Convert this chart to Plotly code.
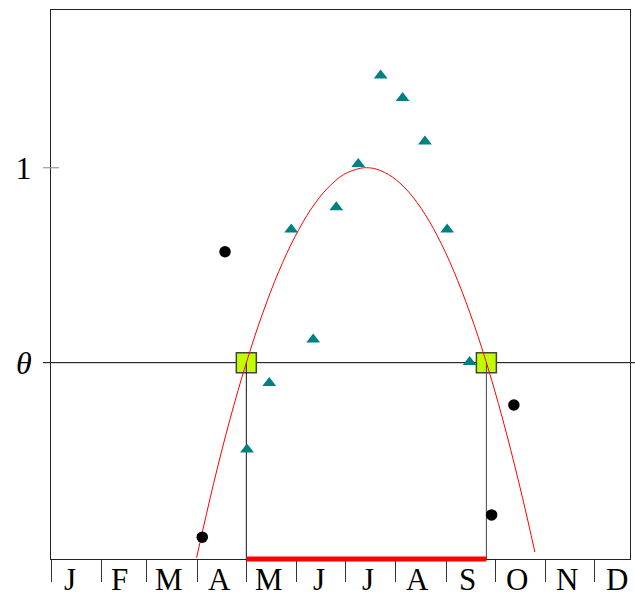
import plotly.graph_objects as go


FONT = "Liberation Serif, DejaVu Serif, serif"
TEAL = "#008080"
LIME = "#BFFF00"
AXIS_COLOR = "#222222"

# x axis is day of year, y axis in units of theta
X_MAX = 356
Y_MIN = -1.007
Y_MAX = 1.809

month_starts = [0, 31, 59, 90, 120, 151, 181, 212, 243, 273, 304, 334]
month_label_pos = [11.7, 42.3, 72.8, 103.4, 133.9, 164.5, 195.0, 225.6, 256.1, 286.7, 317.2, 347.8]
month_labels = ["J", "F", "M", "A", "M", "J", "J", "A", "S", "O", "N", "D"]

tri_x = [120.5, 134.2, 147.7, 161.2, 175.4, 188.9, 202.7, 216.2, 229.9, 243.6, 257.4]
tri_y = [-0.445, -0.104, 0.683, 0.119, 0.797, 1.019, 1.473, 1.357, 1.135, 0.683, 0.004]

dot_x = [93.0, 107.0, 270.9, 284.6]
dot_y = [-0.895, 0.569, -0.781, -0.217]

# points
curve_x = [89.5, 100, 110, 120, 130, 140, 150, 160, 170, 180, 190, 194,
           200, 210, 220, 230, 240, 250, 260, 270, 280, 290, 297.5]
curve_y = [-1.001, -0.619, -0.292, -0.003, 0.250, 0.467, 0.646, 0.789, 0.895, 0.965, 0.997, 1.0,
           0.993, 0.952, 0.875, 0.761, 0.610, 0.422, 0.198, -0.063, -0.361, -0.696, -0.971]

# crossings of the curve with theta
root_x = [120.1, 267.7]
root_y = [0, 0]


fig = go.Figure()

fig.add_trace(go.Scatter(
    x=root_x, y=root_y, mode="markers",
    marker=dict(symbol="square", size=20, color=LIME, line=dict(color="#444444", width=1.5)),
))

for i, rx in enumerate(root_x):
    fig.add_trace(go.Scatter(
        x=[rx, rx], y=[root_y[i], Y_MIN], mode="lines",
        line=dict(color="#111111" if i == 0 else "#444444", width=1),
    ))

fig.add_trace(go.Scatter(
    x=curve_x, y=curve_y, mode="lines",
    line=dict(color="#FF0000", width=1, shape="spline"),
))

fig.add_trace(go.Scatter(
    x=tri_x, y=tri_y, mode="markers",
    marker=dict(symbol="triangle-up", size=12, color=TEAL),
))

fig.add_trace(go.Scatter(
    x=dot_x, y=dot_y, mode="markers",
    marker=dict(symbol="circle", size=11.5, color="black"),
))

# theta line, running a little past both sides of the frame
fig.add_shape(type="line", xref="paper", yref="y", x0=-0.0138, x1=1.0086, y0=0, y1=0,
              line=dict(color="black", width=1), layer="below")
# tick at 1, crossing the left axis
fig.add_shape(type="line", xref="paper", yref="y", x0=-0.0138, x1=0.0138, y0=1, y1=1,
              line=dict(color="#999999", width=1.2))
# red interval on the bottom axis
fig.add_shape(type="line", xref="x", yref="paper", x0=root_x[0], x1=root_x[1], y0=0, y1=0,
              line=dict(color="#FF0000", width=5))

# month letters sit between the boundary ticks
for pos, lab in zip(month_label_pos, month_labels):
    fig.add_annotation(x=pos, xref="x", y=0, yref="paper", text=lab, showarrow=False,
                       yanchor="middle", yshift=-20, font=dict(family=FONT, size=31, color="black"))

fig.update_layout(
    width=635, height=595,
    margin=dict(l=51, r=5, t=10, b=36),
    paper_bgcolor="white", plot_bgcolor="white",
    showlegend=False,
    font=dict(family=FONT, size=31, color="black"),
    xaxis=dict(
        range=[0, X_MAX], showgrid=False, zeroline=False, automargin=False,
        showline=True, linecolor=AXIS_COLOR, linewidth=1, mirror=True,
        tickmode="array", tickvals=month_starts, showticklabels=False,
        ticks="outside", ticklen=22, tickcolor="#333333", tickwidth=1,
    ),
    yaxis=dict(
        range=[Y_MIN, Y_MAX], showgrid=False, zeroline=False, automargin=False,
        showline=True, linecolor=AXIS_COLOR, linewidth=1, mirror=True,
        tickmode="array", tickvals=[0, 1], ticktext=["<i>θ</i>", "1"],
        ticks="", ticklabelstandoff=12, tickfont=dict(size=32),
    ),
)

# page body has a default 8px margin; drop it so the figure fills the window
fig.write_html("out.html", config={"displayModeBar": False},
               post_script="document.body.style.margin='0';")
